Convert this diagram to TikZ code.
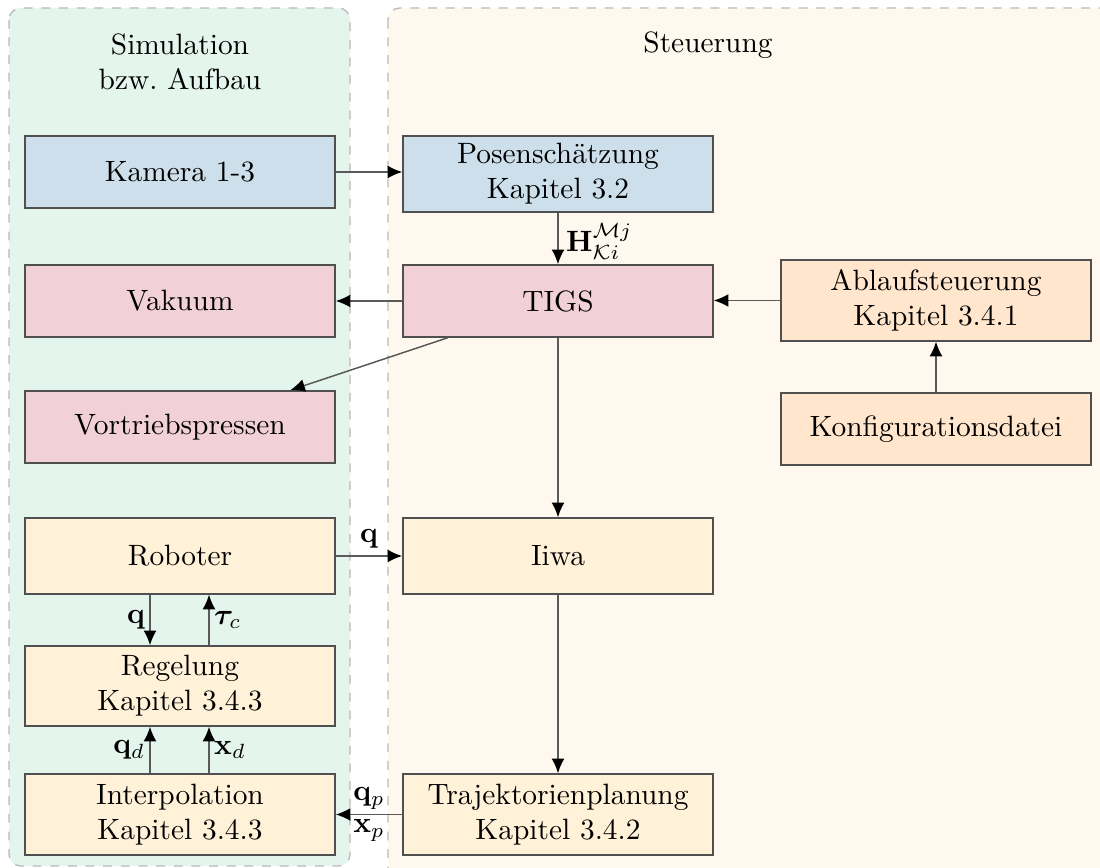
\documentclass[tikz,border=0pt]{standalone}
\usepackage{amsmath,bm}
\usetikzlibrary{arrows.meta,calc}
\definecolor{cblue}{HTML}{CCDFEA}
\definecolor{cpink}{HTML}{F2D0D8}
\definecolor{cpeach}{HTML}{FFE6CC}
\definecolor{cyel}{HTML}{FFF2D9}
\definecolor{cgreen}{HTML}{E3F5EC}
\definecolor{ccream}{HTML}{FFF8EE}
\definecolor{cedge}{HTML}{505050}
\definecolor{cline}{HTML}{5A5A5A}
\begin{document}
\begin{tikzpicture}[x=0.34pt,y=-0.34pt,
  box/.style={draw=cedge, line width=0.5pt, minimum width=105.4pt, inner sep=0pt, align=center, anchor=center},
  panel/.style={draw=gray!55, dashed, line width=0.45pt, rounded corners=4pt},
  conn/.style={draw=cline, line width=0.5pt, -{Latex[length=5pt,width=4.4pt,color=black]}},
  lab/.style={inner sep=1.5pt}
]
\useasboundingbox (0,0) rectangle (1100,868);
\clip (0,0) rectangle (1100,868);
% panels
\path[panel, fill=cgreen] (9,8) rectangle (350,866);
\path[panel, fill=ccream] (388,8) rectangle (1140,900);
\node[align=center] (simt) at (180,62) {Simulation\\bzw.\ Aufbau};
\node (steut) at (708,45) {Steuerung};
% boxes
\node[box, fill=cblue, minimum height=24.5pt] (kam) at (180,172) {Kamera 1-3};
\node[box, fill=cblue, minimum height=25.8pt] (pos) at (558,174) {Posenschätzung\\Kapitel 3.2};
\node[box, fill=cpink, minimum height=24.5pt] (vak) at (180,301) {Vakuum};
\node[box, fill=cpink, minimum height=24.5pt] (tigs) at (558,301) {TIGS};
\node[box, fill=cpeach, minimum height=27.5pt] (abl) at (936,300.5) {Ablaufsteuerung\\Kapitel 3.4.1};
\node[box, fill=cpeach, minimum height=24.5pt] (konf) at (936,429) {Konfigurationsdatei};
\node[box, fill=cpink, minimum height=24.5pt] (vor) at (180,427) {Vortriebspressen};
\node[box, fill=cyel, minimum height=25.8pt] (rob) at (180,556) {Roboter};
\node[box, fill=cyel, minimum height=25.8pt] (iwa) at (558,556) {Iiwa};
\node[box, fill=cyel, minimum height=27.2pt] (reg) at (180,686) {Regelung\\Kapitel 3.4.3};
\node[box, fill=cyel, minimum height=27.5pt] (interp) at (180,814.5) {Interpolation\\Kapitel 3.4.3};
\node[box, fill=cyel, minimum height=27.5pt] (traj) at (558,814.5) {Trajektorienplanung\\Kapitel 3.4.2};
% connectors
\draw[conn] (kam.east) -- (kam.east -| pos.west);
\draw[conn] (pos.south) -- node[right, lab, xshift=1pt, yshift=-1pt] {$\mathbf{H}_{\mathcal{K}i}^{\mathcal{M}j}$} (tigs.north);
\draw[conn] (tigs.west) -- (vak.east);
\draw[conn] (abl.west) -- (abl.west -| tigs.east);
\draw[conn] (konf.north) -- (abl.south);
\draw[conn] (tigs) -- (vor);
\draw[conn] (tigs.south) -- (iwa.north);
\draw[conn] (rob.east) -- node[above, lab, yshift=1pt] {$\mathbf{q}$} (iwa.west);
\draw[conn] (iwa.south) -- (traj.north);
\draw[conn] (traj.west) -- node[above, lab] {$\mathbf{q}_p$} node[below, lab] {$\mathbf{x}_p$} (interp.east);
\draw[conn] ($(rob.south)+(-30,0)$) -- node[left, lab] {$\mathbf{q}$} ($(reg.north)+(-30,0)$);
\draw[conn] ($(reg.north)+(29,0)$) -- node[right, lab] {$\bm{\tau}_c$} ($(rob.south)+(29,0)$);
\draw[conn] ($(interp.north)+(-30,0)$) -- node[left, lab] {$\mathbf{q}_d$} ($(reg.south)+(-30,0)$);
\draw[conn] ($(interp.north)+(29,0)$) -- node[right, lab] {$\mathbf{x}_d$} ($(reg.south)+(29,0)$);
\end{tikzpicture}
\end{document}
